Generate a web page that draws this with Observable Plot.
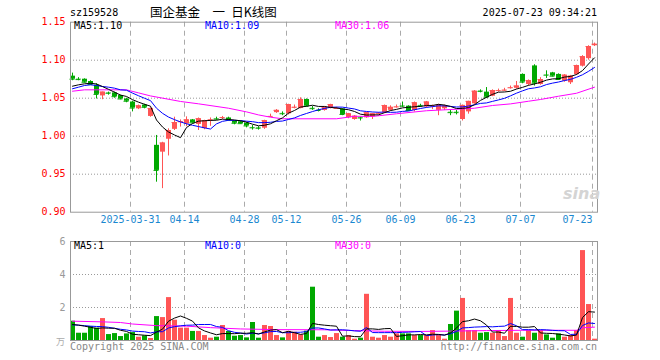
<!DOCTYPE html>
<html><head><meta charset="utf-8">
<script src="https://cdn.jsdelivr.net/npm/d3@7"></script>
<script src="https://cdn.jsdelivr.net/npm/@observablehq/plot@0.6"></script>
<style>
body{margin:0;background:#fff;}
#wrap{position:relative;width:660px;height:360px;overflow:hidden;font-family:"DejaVu Sans Mono",monospace;}
#wrap svg{position:absolute;left:0;}
.t{position:absolute;white-space:pre;font-size:10px;line-height:10px;}
</style></head><body><div id="wrap"></div>
<script>
// ---- data ----
const dates = [
"2025-03-17","2025-03-18","2025-03-19","2025-03-20","2025-03-21","2025-03-24","2025-03-25","2025-03-26","2025-03-27","2025-03-28","2025-03-31",
"2025-04-01","2025-04-02","2025-04-03","2025-04-07","2025-04-08","2025-04-09","2025-04-10","2025-04-11","2025-04-14","2025-04-15","2025-04-16","2025-04-17","2025-04-18","2025-04-21","2025-04-22","2025-04-23","2025-04-24","2025-04-25","2025-04-28","2025-04-29","2025-04-30",
"2025-05-06","2025-05-07","2025-05-08","2025-05-09","2025-05-12","2025-05-13","2025-05-14","2025-05-15","2025-05-16","2025-05-19","2025-05-20","2025-05-21","2025-05-22","2025-05-23","2025-05-26","2025-05-27","2025-05-28","2025-05-29","2025-05-30",
"2025-06-03","2025-06-04","2025-06-05","2025-06-06","2025-06-09","2025-06-10","2025-06-11","2025-06-12","2025-06-13","2025-06-16","2025-06-17","2025-06-18","2025-06-19","2025-06-20","2025-06-23","2025-06-24","2025-06-25","2025-06-26","2025-06-27","2025-06-30",
"2025-07-01","2025-07-02","2025-07-03","2025-07-04","2025-07-07","2025-07-08","2025-07-09","2025-07-10","2025-07-11","2025-07-14","2025-07-15","2025-07-16","2025-07-17","2025-07-18","2025-07-21","2025-07-22","2025-07-23"];

const open = [1.079,1.075,1.075,1.072,1.067,1.053,1.057,1.057,1.0535,1.049,1.045,
1.036,1.041,1.026,0.988,0.979,0.996,1.009,1.018,1.016,1.0215,1.0155,1.010,1.021,1.023,1.024,1.024,1.0197,1.019,1.017,1.0115,1.011,
1.0105,1.0255,1.031,1.030,1.0295,1.0375,1.0364,1.0483,1.0367,1.0342,1.0338,1.0364,1.036,1.036,1.0242,1.022,1.0245,1.0242,1.0255,
1.0295,1.0308,1.034,1.038,1.0398,1.0395,1.0338,1.0405,1.0385,1.039,1.034,1.036,1.0315,1.0315,1.022,1.032,1.0426,1.0595,1.058,1.0526,
1.0595,1.060,1.063,1.063,1.0813,1.068,1.0925,1.068,1.0806,1.0834,1.0813,1.0724,1.0703,1.081,1.0921,1.102,1.119];
const high = [1.083,1.077,1.0755,1.073,1.069,1.058,1.058,1.058,1.054,1.050,1.046,
1.041,1.042,1.037,1.001,0.992,1.0097,1.025,1.0215,1.0255,1.022,1.024,1.021,1.024,1.025,1.026,1.025,1.020,1.020,1.018,1.014,1.0125,
1.021,1.029,1.035,1.032,1.042,1.041,1.0505,1.049,1.039,1.036,1.0385,1.042,1.038,1.036,1.030,1.027,1.025,1.031,1.030,
1.031,1.041,1.040,1.041,1.045,1.040,1.045,1.042,1.0457,1.041,1.042,1.041,1.034,1.034,1.041,1.046,1.060,1.061,1.064,1.061,
1.062,1.063,1.066,1.072,1.082,1.074,1.094,1.077,1.086,1.084,1.082,1.081,1.080,1.0935,1.106,1.119,1.1225];
const low = [1.073,1.073,1.070,1.067,1.049,1.048,1.054,1.050,1.048,1.044,1.032,
1.035,1.036,1.025,0.9395,0.931,0.974,1.0075,1.012,1.0125,1.017,1.0075,1.0085,1.013,1.021,1.022,1.020,1.015,1.016,1.011,1.008,1.008,
1.009,1.0245,1.030,1.027,1.028,1.036,1.036,1.039,1.034,1.032,1.033,1.036,1.0355,1.027,1.023,1.021,1.020,1.0235,1.022,
1.028,1.030,1.033,1.037,1.038,1.033,1.032,1.038,1.037,1.035,1.027,1.034,1.027,1.028,1.020,1.029,1.042,1.057,1.050,1.052,
1.058,1.059,1.062,1.062,1.069,1.066,1.066,1.067,1.076,1.078,1.074,1.071,1.068,1.080,1.091,1.100,1.118];
const close = [1.075,1.0745,1.071,1.068,1.055,1.058,1.0565,1.052,1.049,1.046,1.037,
1.040,1.038,1.0365,0.955,0.991,1.0075,1.018,1.019,1.0215,1.0175,1.023,1.0205,1.0215,1.0225,1.0245,1.021,1.017,1.0165,1.0135,1.011,1.0105,
1.0205,1.026,1.034,1.0295,1.0417,1.038,1.0483,1.0395,1.0362,1.0338,1.038,1.0417,1.0365,1.0286,1.0295,1.0263,1.024,1.0308,1.0295,
1.030,1.0404,1.038,1.0385,1.0395,1.0338,1.044,1.040,1.045,1.0395,1.041,1.0395,1.031,1.031,1.0405,1.0458,1.0592,1.059,1.0513,1.0601,
1.060,1.0605,1.0637,1.066,1.0711,1.0733,1.0697,1.0746,1.0803,1.079,1.0746,1.0803,1.079,1.093,1.1047,1.118,1.121];
const volume = [1.17,0.44,0.44,0.85,0.75,1.33,0.36,0.42,0.24,0.40,0.48,
0.20,0.28,0.12,1.45,1.39,2.60,1.23,0.75,0.75,0.55,0.55,0.30,0.14,0.20,0.91,0.55,0.26,0.30,0.16,1.09,0.14,
0.91,0.85,0.30,0.16,0.55,0.50,0.34,0.57,3.23,0.20,0.30,0.18,0.42,0.20,0.30,0.08,0.14,2.80,0.20,
0.14,0.30,0.20,0.40,0.40,0.40,0.30,0.30,0.30,0.60,0.34,0.08,0.97,1.78,2.55,0.60,0.60,0.44,0.48,0.44,
0.60,0.24,2.55,0.44,0.20,0.60,0.44,0.60,0.34,0.14,0.40,0.20,0.30,0.60,5.45,2.18,0.08];

const ma5Head = [1.0658,1.0676,1.0689,1.0697];
const ma10Head = [1.0624,1.0645,1.0667,1.0676,1.0667,1.0654,1.0645,1.0632,1.061];
const ma30Idx = [0,2,9,11,13,18,21,26,29,31,33,35,44,47,50,54,59,64,67,70,73,76,78,81,84,87];
const ma30Val = [1.0592,1.061,1.061,1.057,1.053,1.0457,1.0426,1.0368,1.032,1.028,1.025,1.0229,1.0229,1.0262,1.026,1.0295,1.0335,1.0355,1.0368,1.0404,1.0425,1.046,1.0483,1.0526,1.0565,1.0645];
const vma5Head = [0.97,0.93,0.87,0.80];
const vma10Head = [0.95,0.93,0.90,0.87,0.85,0.84,0.80,0.74,0.68];
const vma30Idx = [0,5,8,10,14,19,23,28,34,42,47,52,58,63,69,75,84,85,87];
const vma30Val = [1.17,1.13,1.09,1.0,0.9,0.87,0.78,0.70,0.66,0.65,0.60,0.56,0.55,0.57,0.60,0.62,0.62,0.77,0.81];

const priceTicks = [0.90,0.95,1.00,1.05,1.10,1.15];
const priceGrid = [0.95,1.00,1.05,1.10];
const volTicks = [2,4,6];
const volGrid = [2,4];
const tickDates = ["2025-03-31","2025-04-14","2025-04-28","2025-05-12","2025-05-26","2025-06-09","2025-06-23","2025-07-07","2025-07-23"];
const tickLabels = ["2025-03-31","04-14","04-28","05-12","05-26","06-09","06-23","07-07","07-23"];

// ---- build ----
const RED = "#ff5555", GREEN = "#00a800";
function movingAvg(vals, n, head) {
  return vals.map((_, i) => i < n - 1 ? head[i] : d3.mean(vals.slice(i - n + 1, i + 1)));
}
const ma5 = movingAvg(close, 5, ma5Head), ma10 = movingAvg(close, 10, ma10Head);
const vma5 = movingAvg(volume, 5, vma5Head), vma10 = movingAvg(volume, 10, vma10Head);
const rows = dates.map((d, i) => ({
  k: i, date: d, o: open[i], h: high[i], l: low[i], c: close[i], v: volume[i],
  col: close[i] >= open[i] ? RED : GREEN, ma5: ma5[i], ma10: ma10[i], vma5: vma5[i], vma10: vma10[i]
}));
const ma30 = ma30Idx.map((k, i) => ({k, v: ma30Val[i]}));
const vma30 = vma30Idx.map((k, i) => ({k, v: vma30Val[i]}));
const xTicks = tickDates.map((d, i) => ({k: dates.indexOf(d), label: tickLabels[i]}));

const xDomain = [-1/3, 87.5];
const font = {fontFamily: "'DejaVu Sans Mono', monospace", fontSize: "10px", background: "transparent", overflow: "visible"};
const dotted = {stroke: "#999", strokeDasharray: "1,2"};
const dashed = {x: "k", dx: -2, stroke: "#aaa", strokeDasharray: "5,4"};

const topPlot = Plot.plot({
  width: 660, height: 232,
  marginLeft: 70, marginRight: 63, marginTop: 21.7, marginBottom: 20.3,
  x: {domain: xDomain, axis: null},
  y: {domain: [0.90, 1.15], axis: null},
  color: {type: "identity"},
  style: font,
  marks: [
    Plot.ruleY(priceGrid, dotted),
    Plot.ruleX(xTicks, dashed),
    Plot.ruleX(rows, {x: "k", y1: "l", y2: "h", stroke: "col"}),
    Plot.ruleX(rows, {x: "k", y1: "o", y2: "c", stroke: "col", strokeWidth: 5}),
    Plot.ruleY(rows, {x1: d => d.k - 5/12, x2: d => d.k + 5/12, y: "c", stroke: "col"}),
    Plot.line(ma30, {x: "k", y: "v", stroke: "#ff00ff", strokeWidth: 1}),
    Plot.line(rows, {x: "k", y: "ma10", stroke: "#0000ff", strokeWidth: 1}),
    Plot.line(rows, {x: "k", y: "ma5", stroke: "#000", strokeWidth: 1}),
    Plot.frame({stroke: "#999"}),
    Plot.axisY({ticks: priceTicks, tickFormat: d => d.toFixed(2), tickSize: 0, tickPadding: 5, color: "#ff0000", label: null}),
    Plot.text(xTicks.slice(0, -1), {x: "k", text: "label", frameAnchor: "bottom", dy: 11, dx: -2, fill: "#1a88d0"}),
    Plot.text(xTicks.slice(-1), {x: "k", text: "label", frameAnchor: "bottom", dy: 11, dx: -2, textAnchor: "end", fill: "#1a88d0"})
  ]
});

const volPlot = Plot.plot({
  width: 660, height: 128,
  marginLeft: 70, marginRight: 63, marginTop: 9, marginBottom: 20,
  x: {domain: xDomain, axis: null},
  y: {domain: [0, 6], axis: null},
  color: {type: "identity"},
  style: font,
  marks: [
    Plot.ruleY(volGrid, dotted),
    Plot.ruleX(xTicks, dashed),
    Plot.ruleX(rows, {x: "k", y1: 0, y2: "v", stroke: "col", strokeWidth: 5}),
    Plot.line(vma30, {x: "k", y: "v", stroke: "#ff00ff", strokeWidth: 1}),
    Plot.line(rows, {x: "k", y: "vma10", stroke: "#0000ff", strokeWidth: 1}),
    Plot.line(rows, {x: "k", y: "vma5", stroke: "#000", strokeWidth: 1}),
    Plot.frame({stroke: "#999"}),
    Plot.axisY({ticks: volTicks, tickFormat: d => String(d), tickSize: 0, tickPadding: 5, color: "#999", label: null})
  ]
});

const wrap = document.getElementById("wrap");
topPlot.style.top = "0px";
volPlot.style.top = "232px";
wrap.appendChild(topPlot);
wrap.appendChild(volPlot);

function addText(txt, css) {
  const s = document.createElement("span");
  s.className = "t";
  s.textContent = txt;
  Object.assign(s.style, css);
  wrap.appendChild(s);
}
addText("sz159528", {left: "70px", top: "8px", color: "#000"});
addText("国企基金\u2003一\u2002日K线图", {left: "150px", top: "6px", color: "#000", fontFamily: "'Noto Sans CJK SC', sans-serif", fontSize: "12.5px", lineHeight: "12.5px"});
addText("2025-07-23 09:34:21", {right: "63px", top: "8px", color: "#000"});
addText("MA5:1.10", {left: "74px", top: "21px", color: "#000"});
addText("MA10:1.09", {left: "205px", top: "21px", color: "#0000ff"});
addText("MA30:1.06", {left: "335px", top: "21px", color: "#ff00ff"});
addText("MA5:1", {left: "74px", top: "241px", color: "#000"});
addText("MA10:0", {left: "205px", top: "241px", color: "#0000ff"});
addText("MA30:0", {left: "335px", top: "241px", color: "#ff00ff"});
addText("Copyright 2025 SINA.COM", {left: "70px", top: "342px", color: "#888"});
addText("http://finance.sina.com.cn", {right: "63px", top: "342px", color: "#888"});
addText("万", {left: "56px", top: "337px", color: "#aaa", fontFamily: "'Noto Sans CJK SC', sans-serif", fontSize: "9px"});
addText("sina", {left: "563px", top: "186px", color: "#d4d4d4", fontFamily: "'DejaVu Sans', sans-serif", fontSize: "16px", lineHeight: "16px", fontWeight: "bold", fontStyle: "italic"});
</script></body></html>
